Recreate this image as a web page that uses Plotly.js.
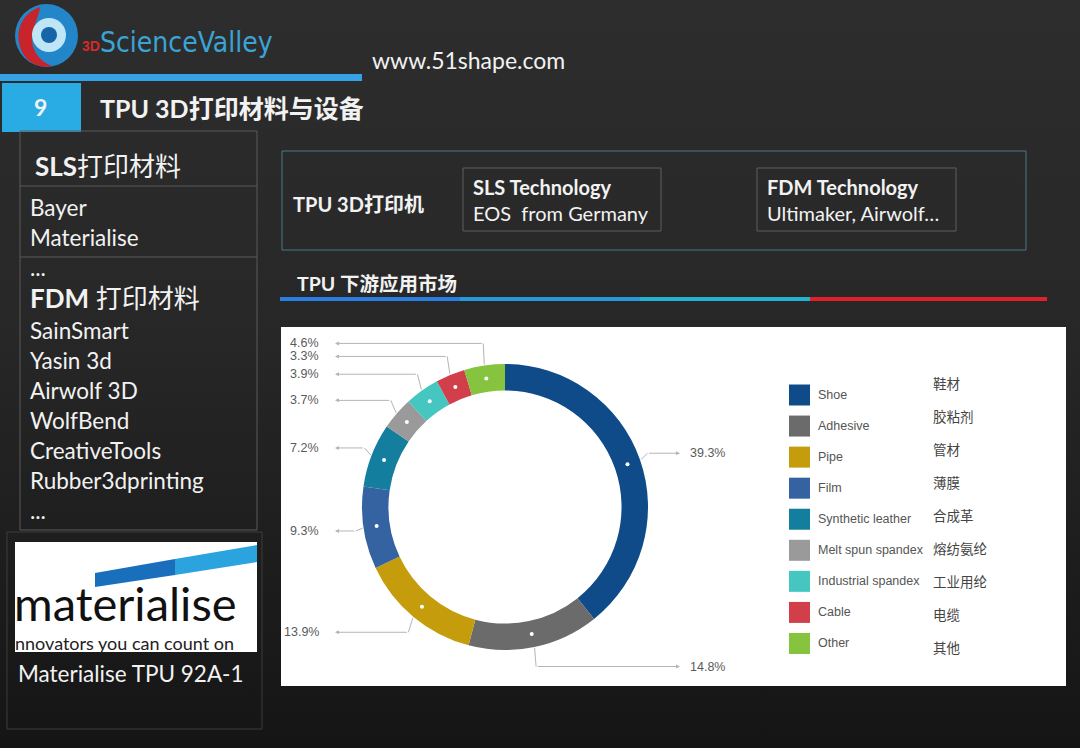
<!DOCTYPE html>
<html>
<head>
<meta charset="utf-8">
<script src="https://cdn.plot.ly/plotly-3.0.1.min.js"></script>
<style>
  html, body { margin: 0; padding: 0; }
  body {
    width: 1080px; height: 748px; overflow: hidden;
    background: linear-gradient(180deg, #2d2d2d 0%, #272727 45%, #151515 100%);
  }
  #chart { width: 1080px; height: 748px; }
</style>
</head>
<body>
<div id="chart"></div>
<script>
// chart data
const categories = ['Shoe', 'Adhesive', 'Pipe', 'Film', 'Synthetic leather',
                    'Melt spun spandex', 'Industrial spandex', 'Cable', 'Other'];
const categoriesZh = ['鞋材', '胶粘剂', '管材', '薄膜', '合成革', '熔纺氨纶', '工业用纶', '电缆', '其他'];
const shares = [39.3, 14.8, 13.9, 9.3, 7.2, 3.7, 3.9, 3.3, 4.6];
const sliceColors = ['#0e4b88', '#6b6b6b', '#c59c0c', '#3563a2', '#137e9d',
                     '#9a9a9a', '#45c6c0', '#d1404a', '#86c440'];

// slide text
const slsMaterials = ['Bayer', 'Materialise', '...'];
const fdmMaterials = ['SainSmart', 'Yasin 3d', 'Airwolf 3D', 'WolfBend', 'CreativeTools', 'Rubber3dprinting', '...'];

const W = 1080, H = 748;
const SANS = 'Lato, "Noto Sans CJK SC", sans-serif';
const ARIAL = '"Liberation Sans", Arial, "Noto Sans CJK SC", sans-serif';
const CJK = '"Noto Sans CJK SC", sans-serif';

let shapes = [];
let annotations = [];

function rect(x0, y0, x1, y1, fill, line, lw, layer) {
    shapes.push({
        type: 'rect', xref: 'x', yref: 'y', x0: x0, y0: y0, x1: x1, y1: y1,
        fillcolor: fill || 'rgba(0,0,0,0)',
        line: { color: line || 'rgba(0,0,0,0)', width: lw || 0 },
        layer: layer || 'below'
    });
}

function label(t, x, y, size, opts = {}) {
    annotations.push({
        text: t, x: x, y: y, xref: 'x', yref: 'y',
        xanchor: opts.anchor || 'left', yanchor: 'middle', showarrow: false,
        font: { family: opts.family || SANS, size: size, color: opts.color || '#f2f2f2' }
    });
}

// --- header: logo, site, section title ---
shapes.push({ type: 'circle', xref: 'x', yref: 'y', x0: 15, x1: 78, y0: 4, y1: 67,
              fillcolor: '#2386c8', line: { width: 0 }, layer: 'below' });
shapes.push({ type: 'path', xref: 'x', yref: 'y', layer: 'below', fillcolor: '#c8242c', line: { width: 0 },
              path: 'M40,7 C18,14 12,40 26,58 C34,66 44,68 52,66 C36,60 28,44 34,28 C36,20 40,12 40,7 Z' });
shapes.push({ type: 'circle', xref: 'x', yref: 'y', x0: 32, x1: 66, y0: 18, y1: 52,
              fillcolor: '#bfe6f7', line: { width: 0 }, layer: 'below' });
shapes.push({ type: 'circle', xref: 'x', yref: 'y', x0: 41, x1: 57, y0: 27, y1: 43,
              fillcolor: '#1565a8', line: { width: 0 }, layer: 'below' });
label('<b>3D</b>', 80, 46, 14, { color: '#d42a2a', family: ARIAL });
label('ScienceValley', 98, 42, 28, { color: '#3ba3d5', family: '"DejaVu Sans Condensed", ' + ARIAL });
label('www.51shape.com', 370, 60, 23, { color: '#f2f2f2' });

rect(0, 74, 362, 81, '#35a2e6');
rect(2, 83, 81, 132, '#29abe3');
label('<b>9</b>', 40, 107, 23, { anchor: 'center' });
label('<b>TPU 3D打印材料与设备</b>', 98, 108, 25);

// --- left panel ---
rect(20, 131, 257, 530, null, '#5a5a5a', 1);
shapes.push({ type: 'line', xref: 'x', yref: 'y', x0: 20, x1: 257, y0: 186, y1: 186, line: { color: '#5a5a5a', width: 1 }, layer: 'below' });
shapes.push({ type: 'line', xref: 'x', yref: 'y', x0: 20, x1: 257, y0: 257, y1: 257, line: { color: '#5a5a5a', width: 1 }, layer: 'below' });
label('<b>SLS</b>打印材料', 33, 166, 26);
slsMaterials.forEach((t, i) => label(t, 28, 207 + 30 * i, 22.5));
label('<b>FDM</b> 打印材料', 28, 298, 26);
fdmMaterials.forEach((t, i) => label(t, 28, 330 + 30 * i, 22.5));

// materialise logo block
rect(7, 532, 262, 729, null, '#3c3c3c', 1);
rect(15, 542, 257, 652, '#ffffff');
shapes.push({ type: 'path', xref: 'x', yref: 'y', layer: 'below', fillcolor: '#1a6fbd', line: { width: 0 },
              path: 'M95,573 L175,559 L175,575 L95,587 Z' });
shapes.push({ type: 'path', xref: 'x', yref: 'y', layer: 'below', fillcolor: '#2aa3de', line: { width: 0 },
              path: 'M175,559 L257,545 L257,562 L175,575 Z' });
label('materialise', 12, 603, 47, { color: '#111111' });
label('nnovators you can count on', 13, 643, 18, { color: '#222222' });
label('Materialise TPU 92A-1', 16, 673, 22.5);

// --- printer box ---
rect(282, 151, 1026, 250, null, '#4a7888', 1);
rect(463, 168, 661, 231, null, '#5e5e5e', 1);
rect(757, 168, 956, 231, null, '#5e5e5e', 1);
label('<b>TPU 3D打印机</b>', 291, 204, 20);
label('<b>SLS Technology</b>', 471, 187, 20);
label('EOS  from Germany', 471, 213, 20);
label('<b>FDM Technology</b>', 765, 187, 20);
label('Ultimaker, Airwolf…', 765, 213, 20);

label('<b>TPU 下游应用市场</b>', 295, 283, 19.5);
rect(280, 297, 460, 301, '#2a7de1');
rect(460, 297, 640, 301, '#2698dc');
rect(640, 297, 810, 301, '#22b3d3');
rect(810, 297, 1047, 301, '#e0202a');

// --- chart area ---
rect(281, 327, 1066, 686, '#ffffff');

const cx = 505, cy = 507, R = 143, hole = 0.815;
const total = shares.reduce((a, b) => a + b, 0);
const rMid = R * (1 + hole) / 2;

// slice mid angles and label heights; keep left-side labels from piling up
let cum = 0;
let slices = shares.map((v) => {
    let th = (cum + v / 2) / total * 2 * Math.PI;
    cum += v;
    return { v: v, s: Math.sin(th), c: Math.cos(th), ly: cy - 163 * Math.cos(th) };
});
let leftSide = slices.filter(d => d.s <= 0).sort((a, b) => b.ly - a.ly);
for (let k = 1; k < leftSide.length; k++) {
    if (leftSide[k - 1].ly - leftSide[k].ly < 13) leftSide[k].ly = leftSide[k - 1].ly - 13;
}

slices.forEach((d) => {
    let s = d.s, c = d.c, ly = d.ly;
    // slice centre dot
    shapes.push({ type: 'circle', xref: 'x', yref: 'y', layer: 'above',
                  x0: cx + rMid * s - 2, x1: cx + rMid * s + 2, y0: cy - rMid * c - 2, y1: cy - rMid * c + 2,
                  fillcolor: '#ffffff', line: { width: 0 } });
    // leader line
    let x0 = cx + (R + 1) * s, y0 = cy - (R + 1) * c;
    let x1 = cx + (R + 8) * s;
    let right = s > 0;
    let tip = right ? 680 : 335;
    shapes.push({ type: 'path', xref: 'x', yref: 'y', layer: 'above',
                  path: 'M' + x0 + ',' + y0 + ' L' + x1 + ',' + ly,
                  line: { color: '#b5b5b5', width: 1 } });
    annotations.push({ x: tip, y: ly, ax: x1, ay: ly, xref: 'x', yref: 'y', axref: 'x', ayref: 'y',
                       text: '', showarrow: true, arrowhead: 2, arrowsize: 0.8, arrowwidth: 1,
                       arrowcolor: '#b5b5b5', standoff: 0 });
    label(d.v.toFixed(1) + '%', right ? 688 : 321, ly, 12.5,
          { family: ARIAL, color: '#5a5a5a', anchor: right ? 'left' : 'right' });
});

// legend text
categories.forEach((name, i) => {
    label(name, 816, 395 + 31.06 * i, 12.5, { family: ARIAL, color: '#555555' });
    label(categoriesZh[i], 931, 383 + 33 * i, 13.5, { family: CJK, color: '#444444' });
});

let donut = {
    type: 'pie',
    values: shares,
    labels: categories,
    marker: { colors: sliceColors, line: { width: 0 } },
    hole: hole,
    sort: false,
    direction: 'clockwise',
    rotation: 0,
    textinfo: 'none',
    hoverinfo: 'skip',
    showlegend: false,
    domain: { x: [(cx - R) / W, (cx + R) / W], y: [1 - (cy + R) / H, 1 - (cy - R) / H] }
};

let legendKeys = {
    type: 'scatter',
    mode: 'markers',
    x: categories.map(() => 799.5),
    y: categories.map((_, i) => 395 + 31.06 * i),
    marker: { symbol: 'square', size: 21, color: sliceColors, line: { width: 0 } },
    hoverinfo: 'skip',
    showlegend: false
};

let layout = {
    width: W, height: H,
    margin: { l: 0, r: 0, t: 0, b: 0 },
    paper_bgcolor: 'rgba(0,0,0,0)',
    plot_bgcolor: 'rgba(0,0,0,0)',
    xaxis: { range: [0, W], visible: false, fixedrange: true },
    yaxis: { range: [H, 0], visible: false, fixedrange: true },
    showlegend: false,
    shapes: shapes,
    annotations: annotations
};

Plotly.newPlot('chart', [legendKeys, donut], layout, { displayModeBar: false, staticPlot: true });
</script>
</body>
</html>
